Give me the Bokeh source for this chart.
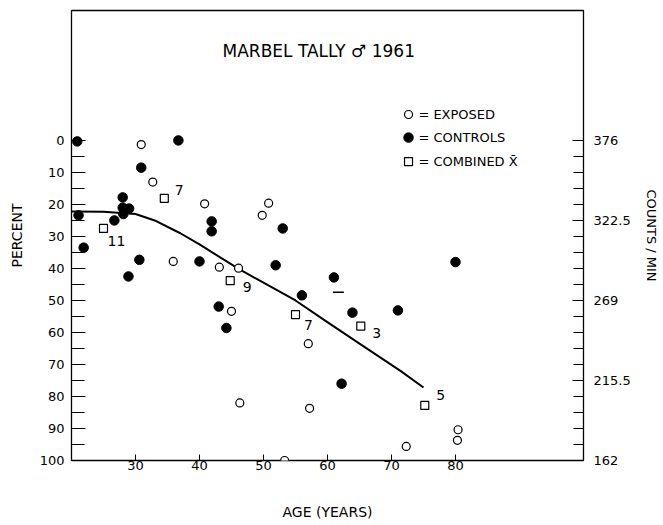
from bokeh.plotting import figure
from bokeh.models import Range1d, LinearAxis, FixedTicker, ColumnDataSource, Label
from bokeh.core.properties import value
from bokeh.embed import file_html
from bokeh.resources import INLINE

FONT = "DejaVu Sans"

# ---- data (age in years, percent; percent axis runs downward) ----
exposed_age = [30.9, 32.7, 35.9, 40.8, 50.8, 49.8, 43.1, 46.1, 45.0, 57.0,
               46.3, 57.2, 53.3, 72.3, 80.4, 80.3]
exposed_pct = [1.3, 13.0, 37.8, 19.8, 19.6, 23.4, 39.6, 39.9, 53.4, 63.5,
               82.0, 83.7, 100.0, 95.6, 90.4, 93.7]

control_age = [20.9, 21.1, 21.9, 28.0, 28.0, 29.0, 28.1, 26.7, 36.7, 30.9,
               30.6, 28.9, 40.0, 41.9, 41.9, 53.0, 51.9, 61.0, 56.0, 43.0,
               63.9, 71.0, 44.2, 62.2, 80.0]
control_pct = [0.3, 23.4, 33.5, 17.8, 21.0, 21.3, 23.0, 25.0, 0.0, 8.5,
               37.3, 42.5, 37.8, 25.3, 28.4, 27.5, 39.0, 42.8, 48.4, 51.9,
               53.8, 53.1, 58.6, 76.0, 38.0]

dash_age = [61.7]
dash_pct = [47.4]

combined_age = [34.5, 25.0, 44.8, 55.0, 65.2, 75.2]
combined_pct = [18.1, 27.5, 43.8, 54.4, 58.0, 82.8]
combined_n = ["7", "11", "9", "7", "3", "5"]
# label offsets (screen px) for the n labels
combined_dx = [15, 13, 17, 13, 16, 16]
combined_dy = [-8, 13, 6, 10, 7, -10]

curve_age = [20, 25, 30, 33, 37, 40, 46, 55, 59.4, 65, 71.4, 75]
curve_pct = [22.2, 22.3, 23.0, 25.0, 29.0, 32.5, 40.0, 50.0, 56.0, 63.5, 72.0, 77.2]

pct_ticks = [0, 10, 20, 30, 40, 50, 60, 70, 80, 90, 100]
pct_minor = [5, 15, 25, 35, 45, 55, 65, 75, 85, 95]
age_ticks = [30, 40, 50, 60, 70, 80]
counts_labels = [376, 322.5, 269, 215.5, 162]

COUNTS_TOP, COUNTS_BOTTOM = 376.0, 162.0
PCT_TOP_VIEW, PCT_BOTTOM_VIEW = -40.6, 100.0
AGE_MIN, AGE_MAX = 20, 100

p = figure(frame_width=512, frame_height=450, output_backend="svg", toolbar_location=None,
           x_range=Range1d(AGE_MIN, AGE_MAX),
           y_range=Range1d(PCT_BOTTOM_VIEW, PCT_TOP_VIEW),
           x_axis_location=None, y_axis_location=None,
           min_border_left=71, min_border_right=76, min_border_top=10, min_border_bottom=62)
p.grid.visible = False
p.outline_line_color = "black"
p.outline_line_width = 1.3
p.background_fill_color = "white"
p.border_fill_color = "white"

# counts range mapped linearly onto percent
scale = (COUNTS_TOP - COUNTS_BOTTOM) / 100.0
p.extra_y_ranges = {"counts": Range1d(COUNTS_BOTTOM, COUNTS_TOP - scale * PCT_TOP_VIEW)}

def style_axis(ax):
    ax.axis_line_color = None
    ax.major_tick_line_color = "black"
    ax.minor_tick_line_color = "black"
    ax.major_label_text_font = FONT
    ax.major_label_text_font_size = "13px"
    ax.major_label_text_color = "black"
    ax.axis_label_text_font = FONT
    ax.axis_label_text_font_size = "14px"
    ax.axis_label_text_font_style = "normal"
    ax.axis_label_text_color = "black"

left = LinearAxis(ticker=FixedTicker(ticks=pct_ticks, minor_ticks=pct_minor),
                  axis_label="PERCENT")
style_axis(left)
left.major_tick_in = 14
left.major_tick_out = 0
left.minor_tick_in = 13
left.minor_tick_out = 0
left.major_label_standoff = 7
left.axis_label_standoff = 12
p.add_layout(left, "left")

counts_minor = [COUNTS_BOTTOM + scale * 5 * k for k in range(21)]
right = LinearAxis(y_range_name="counts",
                   ticker=FixedTicker(ticks=counts_labels, minor_ticks=counts_minor),
                   axis_label="COUNTS / MIN",
                   major_label_overrides={c: (str(c) if c != int(c) else str(int(c))) for c in counts_labels})
style_axis(right)
right.axis_label_text_font_size = "13px"
right.major_tick_in = 11
right.major_tick_out = 0
right.minor_tick_in = 10
right.minor_tick_out = 0
right.major_label_standoff = 10
right.axis_label_standoff = 10
p.add_layout(right, "right")

bottom = LinearAxis(ticker=FixedTicker(ticks=age_ticks, minor_ticks=[]),
                    axis_label="AGE (YEARS)")
style_axis(bottom)
bottom.major_tick_in = 6
bottom.major_tick_out = 0
bottom.major_label_standoff = 0
bottom.axis_label_standoff = 31
p.add_layout(bottom, "below")

# fitted curve
p.line(curve_age, curve_pct, line_color="black", line_width=2)

# points
p.scatter(exposed_age, exposed_pct, marker="circle", size=8,
          fill_color="white", line_color="black", line_width=1.2)
p.scatter(control_age, control_pct, marker="circle", size=9.5,
          fill_color="black", line_color="black")
p.scatter(dash_age, dash_pct, marker="dash", size=11, line_color="black", line_width=1.5)

src = ColumnDataSource(dict(x=combined_age, y=combined_pct, n=combined_n,
                            dx=combined_dx, dy=combined_dy))
p.scatter("x", "y", source=src, marker="square", size=8,
          fill_color="white", line_color="black", line_width=1.2)
p.text("x", "y", text="n", x_offset="dx", y_offset="dy", source=src,
       text_font=value(FONT), text_font_size="14px", text_color="black",
       text_align="center", text_baseline="middle")

# title
p.add_layout(Label(x=43.6, y=-28.1, text="MARBEL TALLY \u2642 1961",
                   text_font=FONT, text_font_size="17px", text_color="black",
                   text_baseline="middle", text_align="left"))

# legend
LEG_MX, LEG_TX = 72.66, 74.2
leg_y = [-8.1, -0.9, 6.6]
leg_txt = ["= EXPOSED", "= CONTROLS", "= COMBINED X\u0304"]
p.scatter([LEG_MX], [leg_y[0]], marker="circle", size=8, fill_color="white",
          line_color="black", line_width=1.2)
p.scatter([LEG_MX], [leg_y[1]], marker="circle", size=9.5, fill_color="black",
          line_color="black")
p.scatter([LEG_MX], [leg_y[2]], marker="square", size=8, fill_color="white",
          line_color="black", line_width=1.2)
p.text([LEG_TX] * 3, leg_y, text=leg_txt, text_font=value(FONT),
       text_font_size="13px", text_color="black", text_baseline="middle",
       text_align="left")

open("out.html", "w").write(file_html(p, INLINE))
